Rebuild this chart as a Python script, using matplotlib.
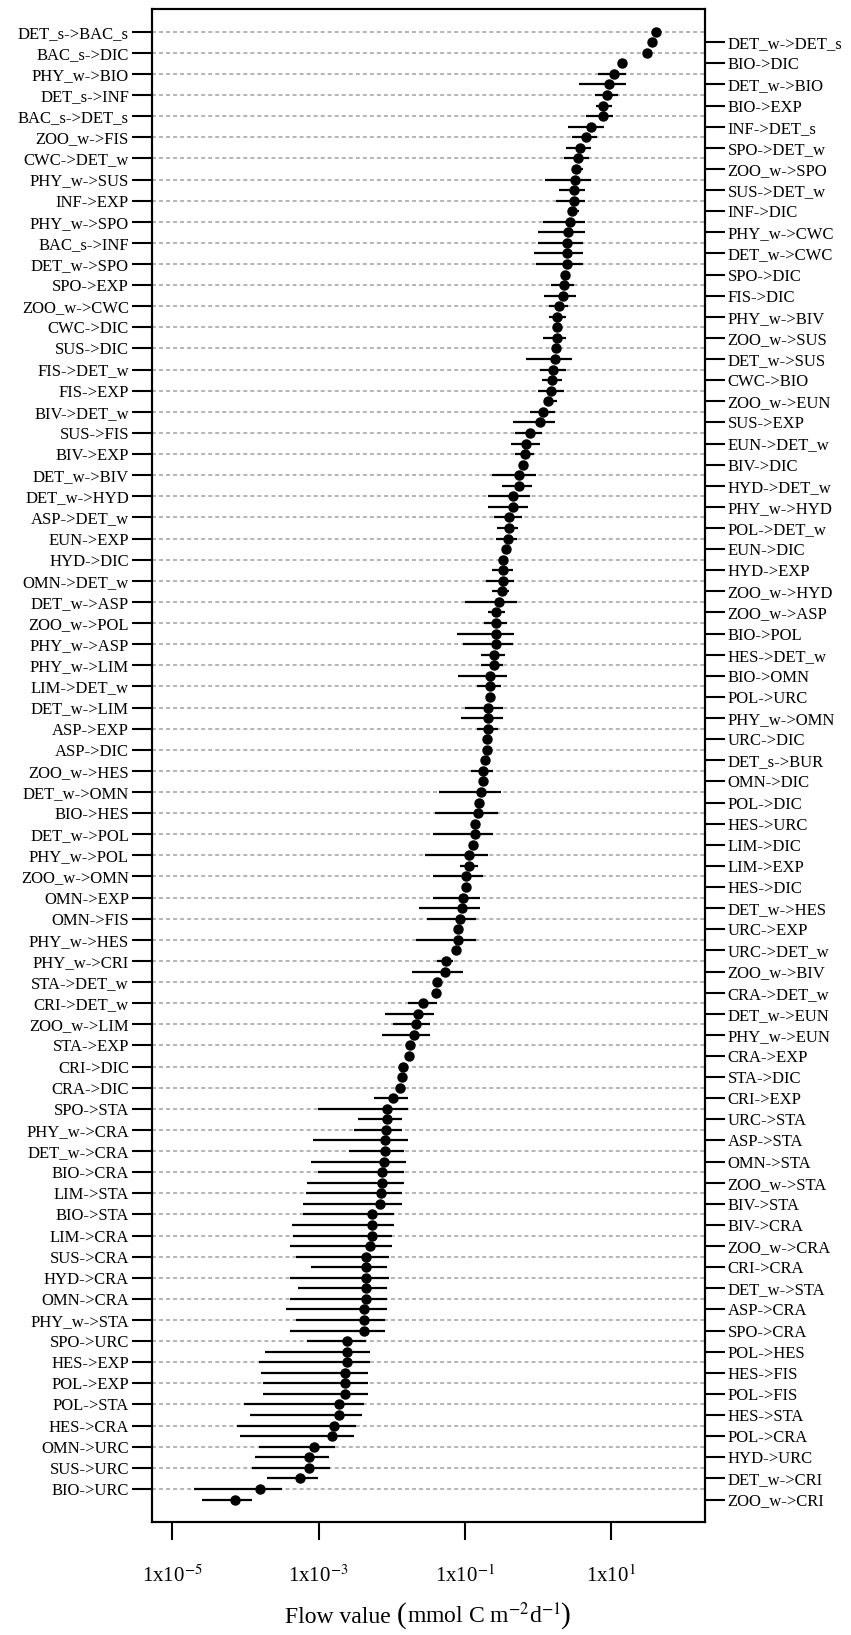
import matplotlib
matplotlib.use("Agg")
import matplotlib.pyplot as plt
from matplotlib.ticker import NullLocator
from matplotlib.offsetbox import TextArea, HPacker, AnchoredOffsetbox
import numpy as np

plt.rcParams["font.family"] = ["Liberation Serif", "DejaVu Serif"]
plt.rcParams["mathtext.fontset"] = "stix"

# flow names, top to bottom; left axis takes rows 0,2,4..., right axis rows 1,3,5...
left_labels = [
    "DET_s->BAC_s", "BAC_s->DIC", "PHY_w->BIO", "DET_s->INF", "BAC_s->DET_s",
    "ZOO_w->FIS", "CWC->DET_w", "PHY_w->SUS", "INF->EXP", "PHY_w->SPO",
    "BAC_s->INF", "DET_w->SPO", "SPO->EXP", "ZOO_w->CWC", "CWC->DIC",
    "SUS->DIC", "FIS->DET_w", "FIS->EXP", "BIV->DET_w", "SUS->FIS",
    "BIV->EXP", "DET_w->BIV", "DET_w->HYD", "ASP->DET_w", "EUN->EXP",
    "HYD->DIC", "OMN->DET_w", "DET_w->ASP", "ZOO_w->POL", "PHY_w->ASP",
    "PHY_w->LIM", "LIM->DET_w", "DET_w->LIM", "ASP->EXP", "ASP->DIC",
    "ZOO_w->HES", "DET_w->OMN", "BIO->HES", "DET_w->POL", "PHY_w->POL",
    "ZOO_w->OMN", "OMN->EXP", "OMN->FIS", "PHY_w->HES", "PHY_w->CRI",
    "STA->DET_w", "CRI->DET_w", "ZOO_w->LIM", "STA->EXP", "CRI->DIC",
    "CRA->DIC", "SPO->STA", "PHY_w->CRA", "DET_w->CRA", "BIO->CRA",
    "LIM->STA", "BIO->STA", "LIM->CRA", "SUS->CRA", "HYD->CRA",
    "OMN->CRA", "PHY_w->STA", "SPO->URC", "HES->EXP", "POL->EXP",
    "POL->STA", "HES->CRA", "OMN->URC", "SUS->URC", "BIO->URC",
]
right_labels = [
    "DET_w->DET_s", "BIO->DIC", "DET_w->BIO", "BIO->EXP", "INF->DET_s",
    "SPO->DET_w", "ZOO_w->SPO", "SUS->DET_w", "INF->DIC", "PHY_w->CWC",
    "DET_w->CWC", "SPO->DIC", "FIS->DIC", "PHY_w->BIV", "ZOO_w->SUS",
    "DET_w->SUS", "CWC->BIO", "ZOO_w->EUN", "SUS->EXP", "EUN->DET_w",
    "BIV->DIC", "HYD->DET_w", "PHY_w->HYD", "POL->DET_w", "EUN->DIC",
    "HYD->EXP", "ZOO_w->HYD", "ZOO_w->ASP", "BIO->POL", "HES->DET_w",
    "BIO->OMN", "POL->URC", "PHY_w->OMN", "URC->DIC", "DET_s->BUR",
    "OMN->DIC", "POL->DIC", "HES->URC", "LIM->DIC", "LIM->EXP",
    "HES->DIC", "DET_w->HES", "URC->EXP", "URC->DET_w", "ZOO_w->BIV",
    "CRA->DET_w", "DET_w->EUN", "PHY_w->EUN", "CRA->EXP", "STA->DIC",
    "CRI->EXP", "URC->STA", "ASP->STA", "OMN->STA", "ZOO_w->STA",
    "BIV->STA", "BIV->CRA", "ZOO_w->CRA", "CRI->CRA", "DET_w->STA",
    "ASP->CRA", "SPO->CRA", "POL->HES", "HES->FIS", "POL->FIS",
    "HES->STA", "POL->CRA", "HYD->URC", "DET_w->CRI", "ZOO_w->CRI",
]

# log10 of flow value (point) and its range (bar ends), row by row, top to bottom
log_mid = [
    1.617, 1.567, 1.490, 1.156, 1.047, 0.970, 0.943, 0.896, 0.888, 0.728,
    0.659, 0.577, 0.550, 0.523, 0.505, 0.491, 0.491, 0.468, 0.445, 0.417,
    0.395, 0.395, 0.395, 0.372, 0.363, 0.340, 0.286, 0.267, 0.263, 0.263,
    0.255, 0.236, 0.204, 0.200, 0.185, 0.135, 0.075, 0.030, -0.103, -0.161,
    -0.179, -0.207, -0.253, -0.257, -0.343, -0.343, -0.389, -0.389, -0.412, -0.439,
    -0.472, -0.472, -0.472, -0.494, -0.527, -0.572, -0.572, -0.572, -0.576, -0.600,
    -0.605, -0.654, -0.654, -0.654, -0.677, -0.677, -0.680, -0.695, -0.695, -0.722,
    -0.754, -0.754, -0.781, -0.804, -0.823, -0.859, -0.859, -0.882, -0.937, -0.937,
    -0.986, -0.986, -1.019, -1.033, -1.064, -1.087, -1.087, -1.119, -1.250, -1.269,
    -1.375, -1.397, -1.566, -1.643, -1.666, -1.698, -1.744, -1.766, -1.848, -1.854,
    -1.881, -1.981, -2.059, -2.059, -2.081, -2.086, -2.086, -2.108, -2.136, -2.136,
    -2.141, -2.163, -2.268, -2.268, -2.268, -2.295, -2.346, -2.346, -2.346, -2.346,
    -2.346, -2.373, -2.373, -2.373, -2.606, -2.606, -2.606, -2.633, -2.633, -2.633,
    -2.715, -2.715, -2.792, -2.815, -3.057, -3.130, -3.130, -3.257, -3.805, -4.138,
]
log_lo = [
    1.617, 1.567, 1.490, 1.156, 0.828, 0.568, 0.783, 0.796, 0.655, 0.417,
    0.468, 0.386, 0.363, 0.464, 0.098, 0.286, 0.253, 0.417, 0.067, 0.003,
    0.003, -0.051, -0.029, 0.372, 0.177, 0.085, 0.153, 0.153, 0.212, 0.071,
    0.255, -0.161, 0.030, 0.058, 0.003, 0.085, -0.103, -0.343, -0.316, -0.371,
    -0.316, -0.207, -0.622, -0.494, -0.677, -0.677, -0.599, -0.554, -0.576, -0.439,
    -0.472, -0.631, -0.709, -0.622, -0.992, -0.677, -0.736, -1.101, -1.019, -0.781,
    -0.781, -1.096, -0.836, -0.654, -0.992, -1.046, -0.836, -0.695, -0.695, -0.722,
    -0.910, -0.754, -1.356, -0.804, -1.406, -0.859, -1.429, -0.882, -1.539, -1.064,
    -1.429, -0.986, -1.429, -1.621, -1.512, -1.087, -1.670, -1.119, -1.383, -1.725,
    -1.375, -1.397, -1.771, -2.090, -1.985, -2.136, -1.744, -1.766, -1.848, -1.854,
    -1.881, -2.241, -3.003, -2.456, -2.510, -3.079, -2.583, -3.107, -3.007, -3.162,
    -3.171, -3.208, -3.208, -3.363, -3.345, -3.390, -3.312, -3.107, -3.390, -3.285,
    -3.390, -3.440, -3.312, -3.390, -3.162, -3.732, -3.810, -3.782, -3.755, -3.755,
    -4.015, -3.937, -4.119, -4.074, -3.812, -3.865, -3.914, -3.700, -4.699, -4.590,
]
log_hi = [
    1.617, 1.567, 1.490, 1.156, 1.203, 1.203, 1.097, 1.011, 1.033, 0.906,
    0.806, 0.724, 0.704, 0.614, 0.724, 0.650, 0.650, 0.568, 0.650, 0.650,
    0.618, 0.618, 0.618, 0.372, 0.495, 0.518, 0.409, 0.382, 0.327, 0.382,
    0.255, 0.468, 0.390, 0.335, 0.359, 0.259, 0.231, 0.231, 0.053, 0.026,
    -0.051, -0.207, -0.029, -0.083, -0.107, -0.138, -0.212, -0.267, -0.289, -0.439,
    -0.472, -0.343, -0.321, -0.398, -0.289, -0.449, -0.425, -0.321, -0.335, -0.449,
    -0.472, -0.425, -0.504, -0.654, -0.472, -0.472, -0.540, -0.695, -0.695, -0.722,
    -0.609, -0.754, -0.499, -0.804, -0.549, -0.859, -0.609, -0.882, -0.677, -0.814,
    -0.754, -0.986, -0.786, -0.786, -0.845, -1.087, -0.845, -1.119, -1.156, -1.027,
    -1.375, -1.397, -1.383, -1.420, -1.470, -1.470, -1.744, -1.766, -1.848, -1.854,
    -1.881, -1.780, -1.780, -1.862, -1.862, -1.780, -1.834, -1.807, -1.834, -1.834,
    -1.858, -1.858, -1.963, -1.963, -1.990, -1.990, -2.040, -2.063, -2.040, -2.063,
    -2.063, -2.063, -2.090, -2.090, -2.350, -2.300, -2.300, -2.327, -2.327, -2.327,
    -2.378, -2.405, -2.483, -2.510, -2.774, -2.852, -2.843, -3.003, -3.499, -3.914,
]

mid = 10 ** np.array(log_mid)
lo = 10 ** np.array(log_lo)
hi = 10 ** np.array(log_hi)
rows = np.arange(len(mid))
left_rows = rows[0::2]
right_rows = rows[1::2]

fig = plt.figure(figsize=(8.51, 16.35), dpi=100)
ax = fig.add_axes([0.1783, 0.0693, 0.6501, 0.9252])
ax.set_xscale("log")

# grey guide lines on the left-label rows
for r in left_rows:
    ax.axhline(r, color="#a0a0a0", lw=1.1, dashes=(2.6, 2.0), zorder=1)

ax.hlines(rows, lo, hi, color="black", lw=1.6, zorder=2)
ax.plot(mid, rows, "o", color="black", ms=6.5, zorder=3)

ax.set_xlim(10 ** -5.282, 10 ** 2.287)
ax.set_ylim(141.1, -2.15)

ax.set_xticks([1e-5, 1e-3, 1e-1, 1e1])
ax.set_xticklabels(["1x10$^{-5}$", "1x10$^{-3}$", "1x10$^{-1}$", "1x10$^{1}$"])
ax.xaxis.set_minor_locator(NullLocator())
ax.tick_params(axis="x", length=12.7, width=1.5, pad=19, labelsize=15)

ax.set_yticks(left_rows)
ax.set_yticklabels(left_labels)
ax.tick_params(axis="y", length=14.4, width=1.5, pad=2, labelsize=12)

ax2 = ax.twinx()
ax2.set_ylim(ax.get_ylim())
ax2.set_yticks(right_rows)
ax2.set_yticklabels(right_labels)
ax2.tick_params(axis="y", length=14.4, width=1.5, pad=2, labelsize=12)

for a in (ax, ax2):
    for s in a.spines.values():
        s.set_linewidth(1.5)

# x label with slightly enlarged brackets
parts = [
    TextArea("Flow value ", textprops=dict(fontsize=17)),
    TextArea("(", textprops=dict(fontsize=21)),
    TextArea("mmol C m$^{-2}$d$^{-1}$", textprops=dict(fontsize=17)),
    TextArea(")", textprops=dict(fontsize=21)),
]
label_box = HPacker(children=parts, align="baseline", pad=0, sep=0)
anchor = AnchoredOffsetbox(loc="center", child=label_box, frameon=False, pad=0,
                           borderpad=0, bbox_to_anchor=(0.503, 0.0118),
                           bbox_transform=fig.transFigure)
fig.add_artist(anchor)

fig.savefig("out.png", dpi=100)
